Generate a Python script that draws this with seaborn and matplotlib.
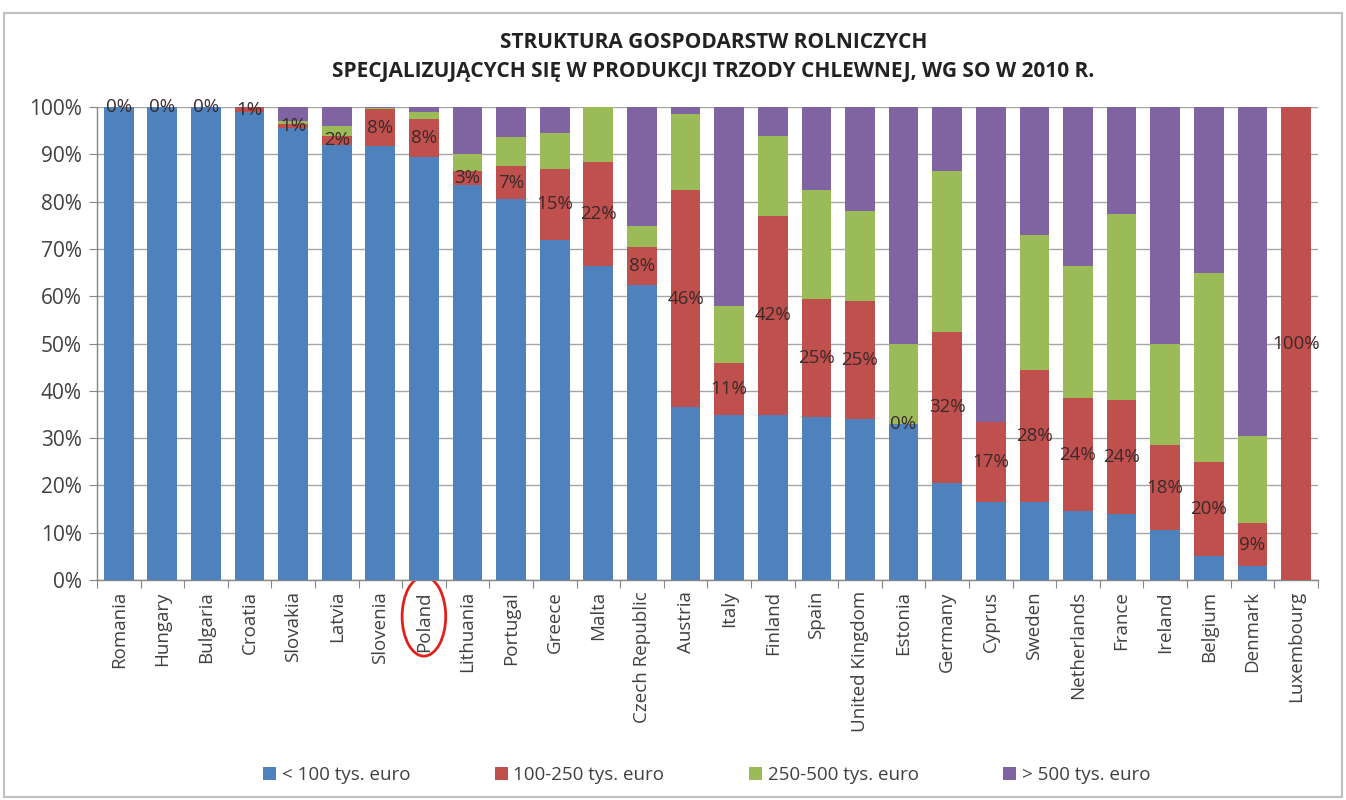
import numpy as np
import pandas as pd
import matplotlib
matplotlib.use("Agg")
import matplotlib.pyplot as plt
import matplotlib.transforms as mtransforms
from matplotlib.patches import Patch, Ellipse, Rectangle
import seaborn as sns

# dane (% gospodarstw)
countries = ["Romania", "Hungary", "Bulgaria", "Croatia", "Slovakia", "Latvia", "Slovenia",
             "Poland", "Lithuania", "Portugal", "Greece", "Malta", "Czech Republic", "Austria",
             "Italy", "Finland", "Spain", "United Kingdom", "Estonia", "Germany", "Cyprus",
             "Sweden", "Netherlands", "France", "Ireland", "Belgium", "Denmark", "Luxembourg"]
below_100 = [100, 100, 100, 99, 95.5, 92, 91.7, 89.5, 83.5, 80.5, 72, 66.5, 62.5, 36.5,
             35, 35, 34.5, 34, 33, 20.5, 16.5, 16.5, 14.5, 14, 10.5, 5, 3, 0]
from_100_250 = [0, 0, 0, 1, 1, 2, 8, 8, 3, 7, 15, 22, 8, 46,
                11, 42, 25, 25, 0, 32, 17, 28, 24, 24, 18, 20, 9, 100]
from_250_500 = [0, 0, 0, 0, 0.5, 2, 0.1, 1.5, 3.5, 6.3, 7.5, 11.5, 4.3, 16,
                12, 17, 23, 19, 17, 34, 0, 28.5, 28, 39.5, 21.5, 40, 18.5, 0]
above_500 = [0, 0, 0, 0, 3, 4, 0.2, 1, 10, 6.2, 5.5, 0, 25.2, 1.5,
             42, 6, 17.5, 22, 50, 13.5, 66.5, 27, 33.5, 22.5, 50, 35, 69.5, 0]
red_labels = ["0%", "0%", "0%", "1%", "1%", "2%", "8%", "8%", "3%", "7%", "15%", "22%", "8%", "46%",
              "11%", "42%", "25%", "25%", "0%", "32%", "17%", "28%", "24%", "24%", "18%", "20%", "9%", "100%"]
series_names = ["< 100 tys. euro", "100-250 tys. euro", "250-500 tys. euro", "> 500 tys. euro"]
colors = ["#4F81BD", "#C0504D", "#9BBB59", "#8064A2"]

vals = np.array([below_100, from_100_250, from_250_500, above_500], dtype=float)
vals = vals / vals.sum(axis=0) * 100  # wykres 100% skumulowany
cum = np.cumsum(vals, axis=0)

sns.set_style("white")
plt.rcParams["font.family"] = ["Open Sans", "DejaVu Sans"]

fig = plt.figure(figsize=(13.46, 8), dpi=100)
ax = fig.add_axes([0.072, 0.275, 0.907, 0.591])

# rysujemy od góry stosu w dół
for i in range(3, -1, -1):
    df = pd.DataFrame({"country": countries, "value": cum[i]})
    sns.barplot(data=df, x="country", y="value", color=colors[i], saturation=1,
                width=0.68, order=countries, ax=ax, zorder=3, linewidth=0)

# etykiety dla 100-250 tys. euro
for k, lab in enumerate(red_labels):
    ymid = vals[0, k] + vals[1, k] / 2
    ax.text(k, ymid, lab, ha="center", va="center", fontsize=13.5, color="#3a2a2a", zorder=5)

ax.set_xlim(-0.5, len(countries) - 0.5)
ax.set_ylim(0, 100)
ax.set_yticks(np.arange(0, 101, 10))
ax.set_yticklabels([f"{v}%" for v in range(0, 101, 10)], fontsize=15, color="#404040")
ax.yaxis.grid(True, color="#a6a6a6", linewidth=1, zorder=0)
ax.set_axisbelow(True)

ax.set_xticks(np.arange(-0.5, len(countries), 1))
ax.set_xticklabels([])
ax.set_xticks(np.arange(len(countries)), minor=True)
ax.set_xticklabels(countries, minor=True, rotation=90, fontsize=13.5, color="#404040")
ax.tick_params(axis="x", which="major", length=6, color="#868686", direction="out", bottom=True)
ax.tick_params(axis="x", which="minor", length=0, pad=8)
ax.tick_params(axis="y", length=6, color="#868686", direction="out", left=True, pad=5)
ax.set_xlabel("")
ax.set_ylabel("")
for s in ["top", "right"]:
    ax.spines[s].set_visible(False)
for s in ["left", "bottom"]:
    ax.spines[s].set_color("#868686")
    ax.spines[s].set_linewidth(1)

# czerwona elipsa wokół Polski
trans = mtransforms.blended_transform_factory(ax.transData, ax.transAxes)
ax.add_patch(Ellipse((countries.index("Poland"), -0.077), 1.0, 0.168, transform=trans,
                     fill=False, edgecolor="#e0201a", linewidth=2, clip_on=False))

fig.text(0.53, 0.947, "STRUKTURA GOSPODARSTW ROLNICZYCH", ha="center", va="center",
         fontsize=15, fontweight="bold", color="#222222")
fig.text(0.53, 0.91, "SPECJALIZUJĄCYCH SIĘ W PRODUKCJI TRZODY CHLEWNEJ, WG SO W 2010 R.",
         ha="center", va="center", fontsize=15, fontweight="bold", color="#222222")

handles = [Patch(facecolor=c, edgecolor="none", label=n) for c, n in zip(colors, series_names)]
fig.legend(handles=handles, loc="center", bbox_to_anchor=(0.525, 0.031), ncol=4, frameon=False,
           fontsize=13.5, handlelength=0.7, handleheight=0.7, handletextpad=0.3, columnspacing=4.5,
           labelcolor="#404040")

fig.patches.append(Rectangle((0.003, 0.004), 0.994, 0.98, transform=fig.transFigure,
                             fill=False, edgecolor="#bfbfbf", linewidth=1.5))

fig.savefig("out.png", dpi=100)
